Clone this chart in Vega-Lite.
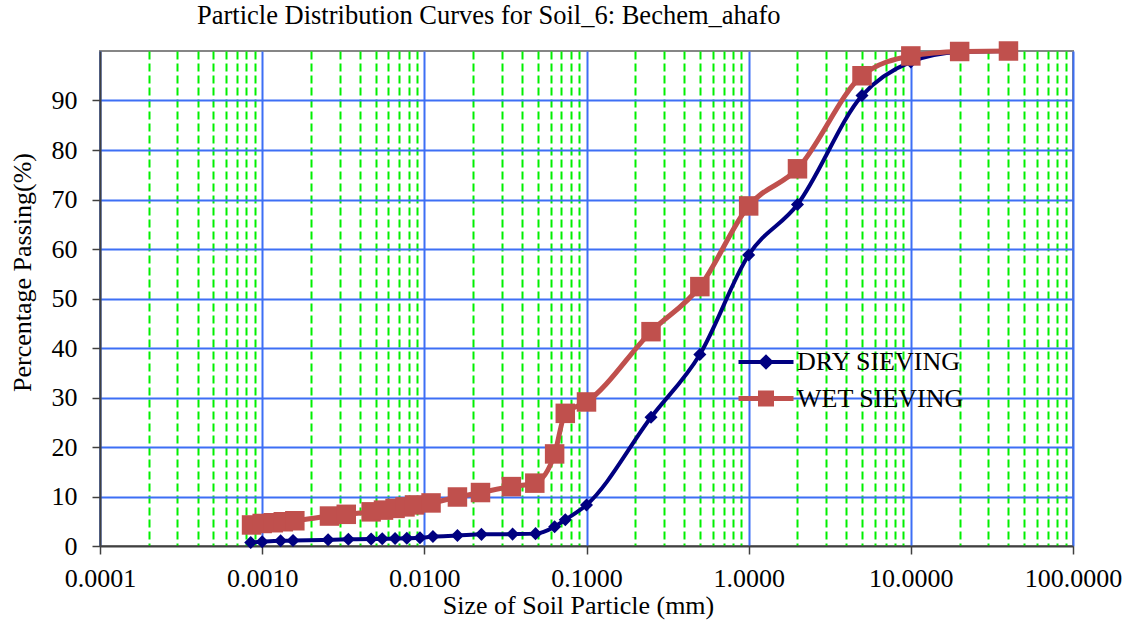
{
  "$schema": "https://vega.github.io/schema/vega-lite/v6.json",
  "width": 973,
  "height": 495,
  "autosize": "none",
  "padding": {"left": 100, "top": 51, "right": 54, "bottom": 81},
  "background": "white",
  "config": {
    "view": {"stroke": "#868686", "strokeWidth": 2},
    "font": "Liberation Serif"
  },
  "title": {
    "text": "Particle Distribution Curves for Soil_6: Bechem_ahafo",
    "font": "Liberation Serif",
    "fontSize": 26.5,
    "fontWeight": "normal",
    "color": "black",
    "anchor": "start",
    "frame": "group",
    "dx": 97,
    "dy": 13,
    "baseline": "alphabetic",
    "offset": 4
  },
  "data": {
    "values": [
      {"series": "DRY SIEVING", "size": 0.00085, "pass": 0.7},
      {"series": "DRY SIEVING", "size": 0.001, "pass": 0.85},
      {"series": "DRY SIEVING", "size": 0.0013, "pass": 1.05},
      {"series": "DRY SIEVING", "size": 0.00155, "pass": 1.1},
      {"series": "DRY SIEVING", "size": 0.00255, "pass": 1.25},
      {"series": "DRY SIEVING", "size": 0.0034, "pass": 1.35},
      {"series": "DRY SIEVING", "size": 0.0047, "pass": 1.4},
      {"series": "DRY SIEVING", "size": 0.0055, "pass": 1.45},
      {"series": "DRY SIEVING", "size": 0.0066, "pass": 1.5},
      {"series": "DRY SIEVING", "size": 0.0078, "pass": 1.55},
      {"series": "DRY SIEVING", "size": 0.0094, "pass": 1.65},
      {"series": "DRY SIEVING", "size": 0.0113, "pass": 1.9},
      {"series": "DRY SIEVING", "size": 0.016, "pass": 2.1},
      {"series": "DRY SIEVING", "size": 0.0225, "pass": 2.35},
      {"series": "DRY SIEVING", "size": 0.035, "pass": 2.4},
      {"series": "DRY SIEVING", "size": 0.0485, "pass": 2.5},
      {"series": "DRY SIEVING", "size": 0.0636, "pass": 3.9},
      {"series": "DRY SIEVING", "size": 0.074, "pass": 5.3},
      {"series": "DRY SIEVING", "size": 0.1, "pass": 8.3},
      {"series": "DRY SIEVING", "size": 0.25, "pass": 26.0},
      {"series": "DRY SIEVING", "size": 0.5, "pass": 38.7},
      {"series": "DRY SIEVING", "size": 1.0, "pass": 58.8},
      {"series": "DRY SIEVING", "size": 2.0, "pass": 69.0},
      {"series": "DRY SIEVING", "size": 5.0, "pass": 91.0},
      {"series": "DRY SIEVING", "size": 10.0, "pass": 97.8},
      {"series": "DRY SIEVING", "size": 20.0, "pass": 99.8},
      {"series": "DRY SIEVING", "size": 40.0, "pass": 100},
      {"series": "WET SIEVING", "size": 0.00086, "pass": 4.25},
      {"series": "WET SIEVING", "size": 0.001, "pass": 4.55},
      {"series": "WET SIEVING", "size": 0.00117, "pass": 4.7},
      {"series": "WET SIEVING", "size": 0.00135, "pass": 4.9},
      {"series": "WET SIEVING", "size": 0.00159, "pass": 5.1},
      {"series": "WET SIEVING", "size": 0.0026, "pass": 6.05},
      {"series": "WET SIEVING", "size": 0.0033, "pass": 6.4},
      {"series": "WET SIEVING", "size": 0.0047, "pass": 6.9},
      {"series": "WET SIEVING", "size": 0.0056, "pass": 7.25},
      {"series": "WET SIEVING", "size": 0.0066, "pass": 7.6},
      {"series": "WET SIEVING", "size": 0.0076, "pass": 7.9},
      {"series": "WET SIEVING", "size": 0.0087, "pass": 8.3},
      {"series": "WET SIEVING", "size": 0.011, "pass": 8.7},
      {"series": "WET SIEVING", "size": 0.016, "pass": 9.9},
      {"series": "WET SIEVING", "size": 0.0222, "pass": 10.8},
      {"series": "WET SIEVING", "size": 0.0344, "pass": 12.0},
      {"series": "WET SIEVING", "size": 0.048, "pass": 12.7},
      {"series": "WET SIEVING", "size": 0.0636, "pass": 18.6},
      {"series": "WET SIEVING", "size": 0.074, "pass": 26.8},
      {"series": "WET SIEVING", "size": 0.1, "pass": 29.1},
      {"series": "WET SIEVING", "size": 0.25, "pass": 43.3},
      {"series": "WET SIEVING", "size": 0.5, "pass": 52.4},
      {"series": "WET SIEVING", "size": 1.0, "pass": 68.7},
      {"series": "WET SIEVING", "size": 2.0, "pass": 76.2},
      {"series": "WET SIEVING", "size": 5.0, "pass": 95.0},
      {"series": "WET SIEVING", "size": 10.0, "pass": 99.0},
      {"series": "WET SIEVING", "size": 20.0, "pass": 99.9},
      {"series": "WET SIEVING", "size": 40.0, "pass": 100}
    ]
  },
  "encoding": {
    "x": {
      "field": "size",
      "type": "quantitative",
      "scale": {"type": "log", "domain": [0.0001, 100], "nice": false},
      "axis": {
        "title": "Size of Soil Particle (mm)",
        "titleFont": "Liberation Serif",
        "titleFontSize": 26,
        "titleFontWeight": "normal",
        "titleColor": "black",
        "titleBaseline": "alphabetic",
        "titleX": 478,
        "titleY": 67,
        "values": [0.0001,0.0002,0.0003,0.0004,0.0005,0.0006,0.0007,0.0008,0.0009,
                   0.001,0.002,0.003,0.004,0.005,0.006,0.007,0.008,0.009,
                   0.01,0.02,0.03,0.04,0.05,0.06,0.07,0.08,0.09,
                   0.1,0.2,0.3,0.4,0.5,0.6,0.7,0.8,0.9,
                   1,2,3,4,5,6,7,8,9,
                   10,20,30,40,50,60,70,80,90,100],
        "labelExpr": "indexof([0.0001,0.001,0.01,0.1,1,10,100], datum.value) >= 0 ? format(datum.value, '.4f') : ''",
        "labelOverlap": false,
        "labelFlush": false,
        "labelFont": "Liberation Serif",
        "labelFontSize": 26,
        "labelColor": "black",
        "labelPadding": 11,
        "tickSize": 8,
        "tickWidth": 1.5,
        "tickColor": {"condition": {"test": "indexof([0.0001,0.001,0.01,0.1,1,10,100], datum.value) >= 0", "value": "#404040"}, "value": "transparent"},
        "domainColor": "#404040",
        "domainWidth": 2,
        "grid": true,
        "gridWidth": 2,
        "gridColor": {"condition": {"test": "indexof([0.0001,0.001,0.01,0.1,1,10,100], datum.value) >= 0", "value": "#3D6FF5"}, "value": "#00F000"},
        "gridDash": {"condition": {"test": "indexof([0.0001,0.001,0.01,0.1,1,10,100], datum.value) >= 0", "value": []}, "value": [8, 4]}
      }
    },
    "y": {
      "field": "pass",
      "type": "quantitative",
      "scale": {"domain": [0, 100], "nice": false},
      "axis": {
        "title": "Percentage Passing(%)",
        "titleFont": "Liberation Serif",
        "titleFontSize": 26,
        "titleFontWeight": "normal",
        "titleColor": "black",
        "titleBaseline": "alphabetic",
        "titleAngle": 270,
        "titleX": -70,
        "titleY": 221,
        "titleAlign": "center",
        "values": [0, 10, 20, 30, 40, 50, 60, 70, 80, 90],
        "labelFont": "Liberation Serif",
        "labelFontSize": 26,
        "labelColor": "black",
        "labelPadding": 15,
        "tickSize": 8,
        "tickWidth": 1.5,
        "tickColor": "#404040",
        "domainColor": "#404040",
        "domainWidth": 2,
        "grid": true,
        "gridWidth": 2,
        "gridColor": {"condition": {"test": "datum.value == 0", "value": "transparent"}, "value": "#3D6FF5"}
      }
    },
    "color": {
      "field": "series",
      "type": "nominal",
      "scale": {"domain": ["DRY SIEVING", "WET SIEVING"], "range": ["#000080", "#C0504D"]},
      "legend": {
        "title": null,
        "orient": "none",
        "legendX": 653,
        "legendY": 298,
        "padding": 0,
        "labelFont": "Liberation Serif",
        "labelFontSize": 26,
        "labelColor": "black",
        "labelLimit": 0,
        "labelOffset": 18,
        "rowPadding": 7.5,
        "symbolSize": 400,
        "encode": {
          "symbols": {
            "update": {
              "shape": {"signal": "datum.value == 'DRY SIEVING' ? 'M-2.75,0H2.75M-0.5,0L0,-0.5L0.5,0L0,0.5Z' : 'M-2.75,0H2.75M-0.55,-0.55H0.55V0.55H-0.55Z'"},
              "stroke": {"signal": "datum.value == 'DRY SIEVING' ? '#000080' : '#C0504D'"},
              "fill": {"signal": "datum.value == 'DRY SIEVING' ? '#000080' : '#C0504D'"},
              "strokeWidth": {"signal": "datum.value == 'DRY SIEVING' ? 4 : 5"},
              "opacity": {"value": 1},
              "fillOpacity": {"value": 1},
              "strokeOpacity": {"value": 1}
            }
          }
        }
      }
    }
  },
  "layer": [
    {
      "transform": [{"filter": "datum.series == 'DRY SIEVING'"}],
      "mark": {"type": "line", "strokeWidth": 4, "interpolate": "monotone"}
    },
    {
      "transform": [{"filter": "datum.series == 'DRY SIEVING'"}],
      "mark": {"type": "point", "shape": "diamond", "filled": true, "size": 170, "opacity": 1}
    },
    {
      "transform": [{"filter": "datum.series == 'WET SIEVING'"}],
      "mark": {"type": "line", "strokeWidth": 5, "interpolate": "monotone"}
    },
    {
      "transform": [{"filter": "datum.series == 'WET SIEVING'"}],
      "mark": {"type": "point", "shape": "square", "filled": true, "size": 380, "opacity": 1}
    }
  ]
}
